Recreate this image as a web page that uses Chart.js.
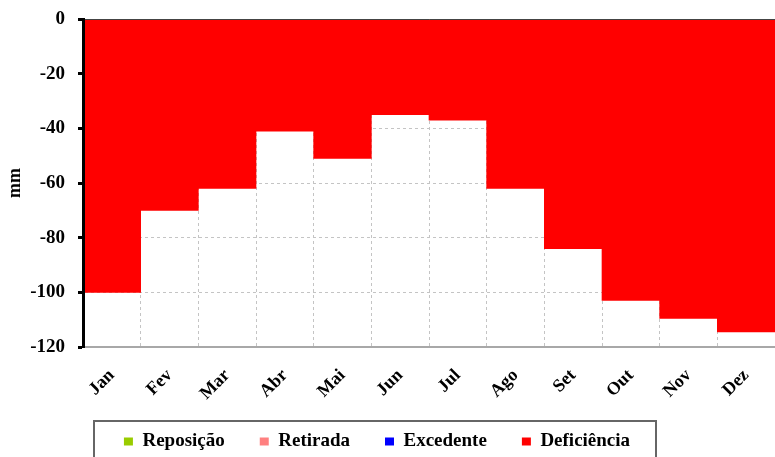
<!DOCTYPE html>
<html>
<head>
<meta charset="utf-8">
<script src="https://cdn.jsdelivr.net/npm/chart.js@4"></script>
<style>
  body { margin: 0; background: #fff; }
  #box { width: 775px; height: 457px; }
</style>
</head>
<body>
<div id="box"><canvas id="graphCanvas"></canvas></div>
<script>
var meses = ["Jan", "Fev", "Mar", "Abr", "Mai", "Jun", "Jul", "Ago", "Set", "Out", "Nov", "Dez"];
var reposicao = [0, 0, 0, 0, 0, 0, 0, 0, 0, 0, 0, 0];
var retirada = [0, 0, 0, 0, 0, 0, 0, 0, 0, 0, 0, 0];
var excedente = [0, 0, 0, 0, 0, 0, 0, 0, 0, 0, 0, 0];
var deficiencia = [-100, -70, -62, -41, -51, -35, -37, -62, -84, -103, -109.5, -114.5];
var yTicks = [0, -20, -40, -60, -80, -100, -120];

var serif = "'Liberation Serif', 'Times New Roman', serif";

// legend gets its own place under the chart, with a frame round it
var legendBox = {
    id: "legendBox",
    afterLayout: function(chart) {
        var lg = chart.legend;
        lg.left = 30;
        lg.right = 724;
        lg.top = 397;
        lg.bottom = 457;
    },
    afterDraw: function(chart) {
        var ctx = chart.ctx;
        ctx.save();
        ctx.strokeStyle = "#666";
        ctx.lineWidth = 2;
        ctx.strokeRect(94, 421, 562, 60);
        ctx.restore();
    }
};

function noSidePadding(scale) {
    scale.paddingLeft = 0;
    scale.paddingRight = 0;
}

function showGraph()
{
    var chartdata = {
        labels: meses,
        datasets: [
            { label: "Reposição", data: reposicao, backgroundColor: "#99cc00" },
            { label: "Retirada", data: retirada, backgroundColor: "#ff8080" },
            { label: "Excedente", data: excedente, backgroundColor: "#0000ff" },
            { label: "Deficiência", data: deficiencia, backgroundColor: "#ff0000" }
        ]
    };

    chartdata.datasets.forEach(function(ds) {
        ds.borderWidth = 0;
        ds.categoryPercentage = 1;
        ds.barPercentage = 1;
    });

    var graphTarget = document.getElementById("graphCanvas");

    new Chart(graphTarget, {
        type: "bar",
        data: chartdata,
        plugins: [legendBox],
        options: {
            responsive: true,
            maintainAspectRatio: false,
            animation: false,
            layout: { padding: { top: 19, right: 0, bottom: 0, left: 0 } },
            plugins: {
                tooltip: { enabled: false },
                legend: {
                    position: "bottom",
                    maxHeight: 1,
                    labels: {
                        color: "#000",
                        font: { family: serif, size: 19, weight: "bold" },
                        boxWidth: 9,
                        boxHeight: 8,
                        padding: 35
                    }
                }
            },
            scales: {
                x: {
                    stacked: true,
                    afterFit: function(scale) {
                        scale.height = 109;
                        noSidePadding(scale);
                    },
                    grid: { color: "#c4c4c4", drawTicks: false, offset: true },
                    border: { color: "#a8a8a8", width: 2, dash: [3, 3] },
                    ticks: {
                        color: "#000",
                        font: { family: serif, size: 18, weight: "bold" },
                        minRotation: 45,
                        maxRotation: 45,
                        padding: 18
                    }
                },
                x2: {
                    type: "category",
                    labels: meses,
                    position: "top",
                    offset: true,
                    afterFit: function(scale) {
                        scale.height = 0;
                        noSidePadding(scale);
                    },
                    ticks: { display: false },
                    grid: { drawOnChartArea: false, drawTicks: false },
                    border: { color: "#444", width: 1, z: 1 }
                },
                y: {
                    stacked: true,
                    min: -120,
                    max: 0,
                    afterFit: function(scale) {
                        scale.width = 83;
                        scale.paddingTop = 0;
                        scale.paddingBottom = 0;
                    },
                    afterBuildTicks: function(scale) {
                        scale.ticks = yTicks.map(function(v) { return { value: v }; });
                    },
                    grid: {
                        color: "#c4c4c4",
                        tickColor: "#000",
                        tickWidth: 3,
                        tickLength: 5,
                        tickBorderDash: [1, 0]
                    },
                    border: { color: "#000", width: 3, dash: [3, 3], z: 1 },
                    ticks: {
                        color: "#000",
                        font: { family: serif, size: 19, weight: "bold" },
                        padding: 13
                    },
                    title: {
                        display: true,
                        text: "mm",
                        color: "#000",
                        font: { family: serif, size: 18, weight: "bold" },
                        padding: { top: 5, bottom: 0 }
                    }
                }
            }
        }
    });
}

showGraph();
</script>
</body>
</html>
